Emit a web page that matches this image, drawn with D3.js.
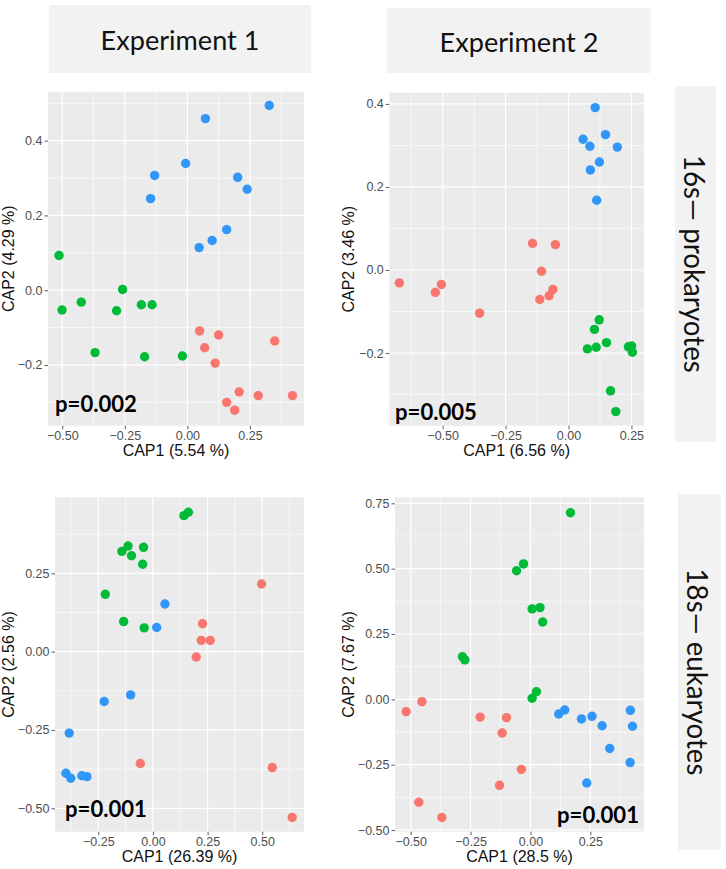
<!DOCTYPE html>
<html><head><meta charset="utf-8">
<script src="https://cdn.jsdelivr.net/npm/d3@7"></script>
<style>body{margin:0;background:#fff}</style>
</head><body>
<svg id="c" width="726" height="869"></svg>
<script>
// ---------------- DATA ----------------
const columns = ["Experiment 1", "Experiment 2"];
const rows = ["16s\u2014 prokaryotes", "18s\u2014 eukaryotes"];
const xTitles = ["CAP1 (5.54 %)", "CAP1 (6.56 %)", "CAP1 (26.39 %)", "CAP1 (28.5 %)"];
const yTitles = ["CAP2 (4.29 %)", "CAP2 (3.46 %)", "CAP2 (2.56 %)", "CAP2 (7.67 %)"];
const pValues = ["p=0.002", "p=0.005", "p=0.001", "p=0.001"];

const xTicks1 = [-0.5, -0.25, 0, 0.25];
const yTicks1 = [-0.2, 0, 0.2, 0.4];
const xTicks2 = [-0.5, -0.25, 0, 0.25];
const yTicks2 = [-0.2, 0, 0.2, 0.4];
const xTicks3 = [-0.25, 0, 0.25, 0.5];
const yTicks3 = [-0.5, -0.25, 0, 0.25];
const xTicks4 = [-0.5, -0.25, 0, 0.25];
const yTicks4 = [-0.5, -0.25, 0, 0.25, 0.5, 0.75];

const e1_16s_red = [[0.049,-0.109],[0.125,-0.120],[0.069,-0.154],[0.111,-0.195],[0.349,-0.136],[0.207,-0.272],[0.157,-0.300],[0.189,-0.321],[0.283,-0.282],[0.420,-0.282]];
const e1_16s_green = [[-0.513,0.093],[-0.501,-0.053],[-0.424,-0.032],[-0.369,-0.167],[-0.283,-0.055],[-0.259,0.002],[-0.184,-0.039],[-0.141,-0.039],[-0.171,-0.178],[-0.020,-0.176]];
const e1_16s_blue = [[0.327,0.494],[0.072,0.459],[-0.007,0.339],[-0.131,0.307],[-0.147,0.245],[0.201,0.302],[0.239,0.270],[0.157,0.162],[0.099,0.133],[0.047,0.114]];

const e2_16s_red = [[-0.672,-0.031],[-0.529,-0.054],[-0.505,-0.035],[-0.353,-0.104],[-0.143,0.064],[-0.052,0.061],[-0.107,-0.003],[-0.062,-0.047],[-0.077,-0.062],[-0.114,-0.071]];
const e2_16s_green = [[0.122,-0.120],[0.103,-0.143],[0.151,-0.175],[0.075,-0.190],[0.110,-0.186],[0.238,-0.185],[0.251,-0.183],[0.254,-0.198],[0.167,-0.291],[0.188,-0.341]];
const e2_16s_blue = [[0.106,0.391],[0.058,0.315],[0.085,0.298],[0.147,0.326],[0.194,0.296],[0.123,0.260],[0.087,0.241],[0.112,0.168]];

const e1_18s_red = [[0.497,0.216],[0.227,0.089],[0.221,0.036],[0.262,0.036],[0.198,-0.017],[-0.058,-0.357],[0.546,-0.370],[0.637,-0.529]];
const e1_18s_green = [[0.142,0.434],[0.162,0.445],[-0.142,0.320],[-0.114,0.337],[-0.098,0.306],[-0.043,0.333],[-0.047,0.279],[-0.218,0.183],[-0.134,0.096],[-0.040,0.076]];
const e1_18s_blue = [[0.055,0.152],[0.017,0.077],[-0.102,-0.138],[-0.223,-0.159],[-0.383,-0.260],[-0.398,-0.388],[-0.376,-0.404],[-0.325,-0.396],[-0.302,-0.399]];

const e2_18s_red = [[-0.519,-0.047],[-0.453,-0.009],[-0.210,-0.068],[-0.100,-0.070],[-0.118,-0.129],[-0.038,-0.268],[-0.129,-0.329],[-0.466,-0.394],[-0.370,-0.452]];
const e2_18s_green = [[0.167,0.714],[-0.058,0.492],[-0.029,0.518],[0.007,0.346],[0.040,0.351],[0.051,0.296],[-0.284,0.163],[-0.274,0.151],[0.025,0.029],[0.007,0.004]];
const e2_18s_blue = [[0.118,-0.056],[0.143,-0.041],[0.213,-0.075],[0.257,-0.065],[0.299,-0.101],[0.417,-0.042],[0.426,-0.103],[0.331,-0.188],[0.416,-0.242],[0.235,-0.320]];

// ---------------- LAYOUT / STYLE ----------------
const COLORS = {red:"#F8766D", green:"#00BA38", blue:"#3097F8"};
const panels = [
  {x0:48,  x1:304, y0:91.7,  y1:425.7, xd:[-0.557,0.466], yd:[-0.3625,0.531], xt:xTicks1, yt:yTicks1, yf:".1f", ytx:8.3,
   series:{red:e1_16s_red, green:e1_16s_green, blue:e1_16s_blue}, p:{x:55, y:411.5, anchor:"start"}},
  {x0:389.3, x1:644, y0:92.7, y1:425.7, xd:[-0.712,0.300], yd:[-0.375,0.427], xt:xTicks2, yt:yTicks2, yf:".1f", ytx:348.3,
   series:{red:e2_16s_red, green:e2_16s_green, blue:e2_16s_blue}, p:{x:395, y:420, anchor:"start"}},
  {x0:55,  x1:304, y0:497.3, y1:831.7, xd:[-0.448,0.691], yd:[-0.5747,0.4926], xt:xTicks3, yt:yTicks3, yf:".2f", ytx:8.3,
   series:{green:e1_18s_green, blue:e1_18s_blue, red:e1_18s_red}, p:{x:65, y:816.7, anchor:"start"}},
  {x0:395, x1:644, y0:497.3, y1:831.7, xd:[-0.5655,0.474], yd:[-0.5065,0.773], xt:xTicks4, yt:yTicks4, yf:".2f", ytx:348.3,
   series:{green:e2_18s_green, red:e2_18s_red, blue:e2_18s_blue}, p:{x:639, y:823.3, anchor:"end"}}
];
const headers = [{x:49,y:5,w:262,h:68,ty:50},{x:387,y:8,w:264,h:65,ty:51.7}];
const strips = [{x:675,y:86,w:41,h:355.7},{x:678,y:494,w:42.7,h:356}];

const svg = d3.select("#c");

// place text with given font size, then squeeze horizontally to the target width
function placeText(parent, txt, tx, ty, rot, size, target, weight, anchor){
  const t = parent.append("text").attr("text-anchor",anchor||"middle")
    .style("font-family","Lato, 'Open Sans', sans-serif").style("font-size",size+"px")
    .style("font-weight",weight||400).attr("fill","#111").text(txt);
  const w = t.node().getComputedTextLength();
  const sx = target / w;
  t.attr("transform",`translate(${tx},${ty}) rotate(${rot}) scale(${sx},1)`);
  return t;
}

// headers
headers.forEach((h,i)=>{
  svg.append("rect").attr("x",h.x).attr("y",h.y).attr("width",h.w).attr("height",h.h).attr("fill","#F2F2F2");
  placeText(svg, columns[i], h.x+h.w/2, h.ty, 0, 27, 159);
});

// strips
strips.forEach((s,i)=>{
  svg.append("rect").attr("x",s.x).attr("y",s.y).attr("width",s.w).attr("height",s.h).attr("fill","#F2F2F2");
  placeText(svg, rows[i], s.x + 9, s.y + s.h/2, 90, 29, i===0?218:207);
});

const fmtX = d3.format(".2f");

panels.forEach((P,i)=>{
  const x = d3.scaleLinear().domain(P.xd).range([P.x0,P.x1]);
  const y = d3.scaleLinear().domain(P.yd).range([P.y1,P.y0]);
  const g = svg.append("g");
  g.append("rect").attr("x",P.x0).attr("y",P.y0).attr("width",P.x1-P.x0).attr("height",P.y1-P.y0).attr("fill","#EBEBEB");

  function minors(t, dom){
    const step = t[1]-t[0];
    const out = [];
    for(let k=-1;k<t.length;k++){
      const v = t[0] + step*k + step/2;
      if(v>dom[0] && v<dom[1]) out.push(v);
    }
    return out;
  }
  g.selectAll(null).data(minors(P.xt,P.xd)).enter().append("line")
    .attr("x1",d=>x(d)).attr("x2",d=>x(d)).attr("y1",P.y0).attr("y2",P.y1)
    .attr("stroke","#fff").attr("stroke-width",0.6);
  g.selectAll(null).data(minors(P.yt,P.yd)).enter().append("line")
    .attr("y1",d=>y(d)).attr("y2",d=>y(d)).attr("x1",P.x0).attr("x2",P.x1)
    .attr("stroke","#fff").attr("stroke-width",0.6);
  g.selectAll(null).data(P.xt).enter().append("line")
    .attr("x1",d=>x(d)).attr("x2",d=>x(d)).attr("y1",P.y0).attr("y2",P.y1)
    .attr("stroke","#fff").attr("stroke-width",1.2);
  g.selectAll(null).data(P.yt).enter().append("line")
    .attr("y1",d=>y(d)).attr("y2",d=>y(d)).attr("x1",P.x0).attr("x2",P.x1)
    .attr("stroke","#fff").attr("stroke-width",1.2);

  const xa = g.append("g").attr("transform",`translate(0,${P.y1})`)
    .call(d3.axisBottom(x).tickValues(P.xt).tickFormat(fmtX).tickSize(3.5).tickPadding(1.5));
  const ya = g.append("g").attr("transform",`translate(${P.x0},0)`)
    .call(d3.axisLeft(y).tickValues(P.yt).tickFormat(d3.format(P.yf)).tickSize(3.5).tickPadding(2));
  [xa,ya].forEach(a=>{
    a.select(".domain").remove();
    a.selectAll(".tick line").attr("stroke","#333").attr("stroke-width",0.8);
    a.selectAll(".tick text").attr("fill","#4D4D4D").style("font-family","'Liberation Sans', Arial, sans-serif").style("font-size","12.5px");
  });

  g.append("text").attr("x",(P.x0+P.x1)/2).attr("y",P.y1+30.5).attr("text-anchor","middle")
    .style("font-family","'Liberation Sans', Arial, sans-serif").style("font-size","16px").attr("fill","#111").text(xTitles[i]);
  g.append("text").attr("transform",`translate(${P.ytx+5.5},${(P.y0+P.y1)/2}) rotate(-90)`).attr("text-anchor","middle")
    .style("font-family","'Liberation Sans', Arial, sans-serif").style("font-size","16px").attr("fill","#111").text(yTitles[i]);

  Object.entries(P.series).forEach(([k,arr])=>{
    g.selectAll(null).data(arr).enter().append("circle")
      .attr("cx",d=>x(d[0])).attr("cy",d=>y(d[1])).attr("r",4.7).attr("fill",COLORS[k]);
  });

  placeText(g, pValues[i], P.p.x, P.p.y, 0, 22, 82, 700, P.p.anchor).attr("fill","#000");
});
</script>
</body></html>
